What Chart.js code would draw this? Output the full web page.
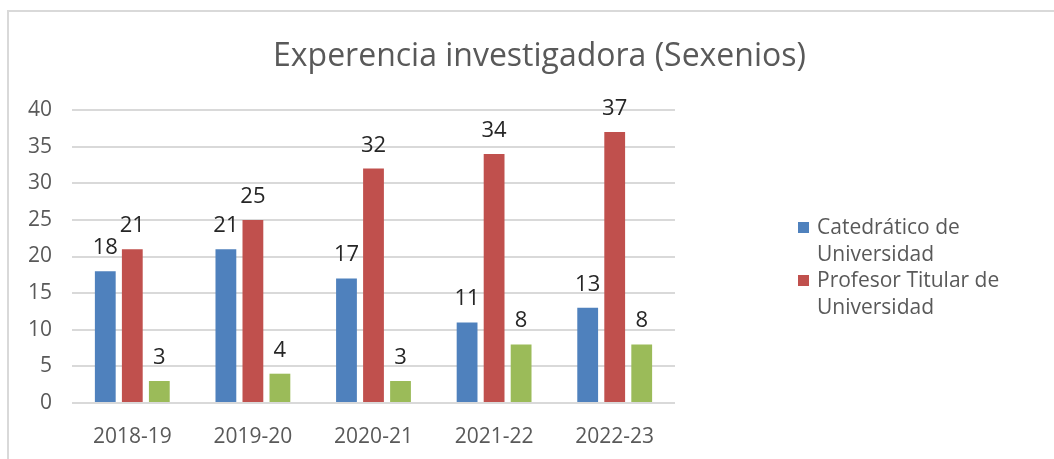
<!DOCTYPE html>
<html><head><meta charset="utf-8">
<script src="https://cdn.jsdelivr.net/npm/chart.js@4"></script>
<style>
html,body{margin:0;padding:0;background:#fff;}
#wrap{position:relative;width:1054px;height:459px;overflow:hidden;background:#fff;}
#frame{position:absolute;left:7px;top:10px;width:1100px;height:500px;border-left:2px solid #d9d9d9;border-top:2px solid #d9d9d9;}
canvas{position:absolute;left:0;top:0;}
</style></head><body>
<div id="wrap"><div id="frame"></div><canvas id="c" width="1054" height="459"></canvas></div>
<script>
const categories = ['2018-19','2019-20','2020-21','2021-22','2022-23'];
const catedratico = [18,21,17,11,13];
const titular = [21,25,32,34,37];
const otros = [3,4,3,8,8];
const seriesNames = ['Catedrático de Universidad','Profesor Titular de Universidad','Otros'];
const seriesColors = ['#4F81BD','#C0504D','#9BBB59'];
const legendSeries = [0,1];
const yTickValues = [0,5,10,15,20,25,30,35,40];
const titleText = 'Experencia investigadora (Sexenios)';

const FONT = "'Open Sans', 'Noto Sans', sans-serif";
const GREY = '#595959';

const titlePlugin = {
  id: 'customTitle',
  afterDraw(chart) {
    const ctx = chart.ctx;
    ctx.save();
    let size = 30;
    ctx.font = `normal ${size}px ${FONT}`;
    const w = ctx.measureText(titleText).width;
    size = size * 533 / w;
    ctx.font = `normal ${size.toFixed(2)}px ${FONT}`;
    ctx.fillStyle = GREY;
    ctx.textAlign = 'center';
    ctx.textBaseline = 'alphabetic';
    ctx.fillText(titleText, 539.5, 66);
    ctx.restore();
  }
};

const valueLabels = {
  id: 'valueLabels',
  afterDatasetsDraw(chart) {
    const ctx = chart.ctx;
    ctx.save();
    ctx.font = `normal 22px ${FONT}`;
    ctx.fillStyle = '#262626';
    ctx.textAlign = 'center';
    ctx.textBaseline = 'alphabetic';
    chart.data.datasets.forEach((ds, di) => {
      const meta = chart.getDatasetMeta(di);
      meta.data.forEach((el, i) => {
        ctx.fillText(String(ds.data[i]), el.x, el.y - 17);
      });
    });
    ctx.restore();
  }
};

function wrapWords(ctx, text, maxW) {
  const words = text.split(' ');
  const lines = [];
  let cur = '';
  words.forEach(w => {
    const t = cur ? cur + ' ' + w : w;
    if (ctx.measureText(t).width > maxW && cur) { lines.push(cur); cur = w; }
    else cur = t;
  });
  if (cur) lines.push(cur);
  return lines;
}

const legendPlugin = {
  id: 'wrapLegend',
  afterDraw(chart) {
    const ctx = chart.ctx;
    ctx.save();
    ctx.font = `normal 21px ${FONT}`;
    ctx.textBaseline = 'middle';
    ctx.textAlign = 'left';
    let y = 228;
    legendSeries.forEach(si => {
      const ds = chart.data.datasets[si];
      ctx.fillStyle = ds.backgroundColor;
      ctx.fillRect(798, y - 6, 11, 11);
      ctx.fillStyle = GREY;
      const lines = wrapWords(ctx, ds.label, 210);
      lines.forEach((ln, k) => ctx.fillText(ln, 817, y + k * 27));
      y += lines.length * 26.5;
    });
    ctx.restore();
  }
};

new Chart(document.getElementById('c'), {
  type: 'bar',
  data: {
    labels: categories,
    datasets: [
      { label: seriesNames[0], data: catedratico, backgroundColor: seriesColors[0] },
      { label: seriesNames[1], data: titular, backgroundColor: seriesColors[1] },
      { label: seriesNames[2], data: otros, backgroundColor: seriesColors[2] }
    ]
  },
  options: {
    responsive: false,
    animation: false,
    devicePixelRatio: 1,
    layout: { padding: { top: 110, right: 379, left: 0, bottom: 0 } },
    datasets: { bar: { categoryPercentage: 0.672, barPercentage: 0.77 } },
    plugins: { legend: { display: false }, title: { display: false }, tooltip: { enabled: false } },
    scales: {
      x: {
        grid: { display: false },
        border: { display: false },
        ticks: { color: GREY, font: { family: FONT, size: 21 }, padding: 13 },
        afterFit(s) { s.height = 56; }
      },
      y: {
        min: 0, max: 40,
        afterBuildTicks(s) { s.ticks = yTickValues.map(v => ({ value: v })); },
        grid: { color: '#d9d9d9', lineWidth: 2, drawTicks: false },
        border: { display: false },
        ticks: { color: GREY, font: { family: FONT, size: 21 }, padding: 20 },
        afterFit(s) { s.width = 72; }
      }
    }
  },
  plugins: [valueLabels, legendPlugin, titlePlugin]
});
</script>
</body></html>
